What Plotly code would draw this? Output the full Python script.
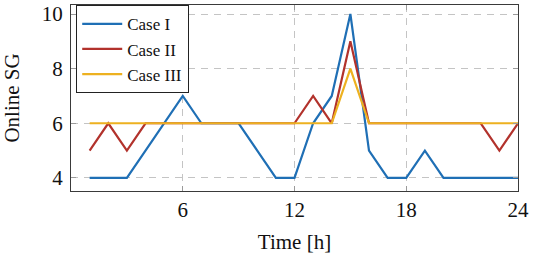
import plotly.graph_objects as go

hours = list(range(1, 25))
case_1 = [4, 4, 4, 5, 6, 7, 6, 6, 6, 5, 4, 4, 6, 7, 10, 5, 4, 4, 5, 4, 4, 4, 4, 4]
case_2 = [5, 6, 5, 6, 6, 6, 6, 6, 6, 6, 6, 6, 7, 6, 9, 6, 6, 6, 6, 6, 6, 6, 5, 6]
case_3 = [6, 6, 6, 6, 6, 6, 6, 6, 6, 6, 6, 6, 6, 6, 8, 6, 6, 6, 6, 6, 6, 6, 6, 6]
names = ["Case I", "Case II", "Case III"]
colors = ["#1f6fb5", "#b2322c", "#edb120"]
x_ticks = [6, 12, 18, 24]
y_ticks = [4, 6, 8, 10]

FONT = "'Liberation Serif', 'DejaVu Serif', serif"

fig = go.Figure()
for ys, name, c in zip([case_1, case_2, case_3], names, colors):
    fig.add_trace(go.Scatter(x=hours, y=ys, mode="lines", name=name,
                             line=dict(color=c, width=2.2)))

axis_common = dict(
    showline=True, linecolor="#3a3a3a", linewidth=1.3, mirror="ticks",
    showgrid=True, gridcolor="#c4c4c4", griddash="7px,6px", gridwidth=1,
    ticks="inside", ticklen=5, tickcolor="#9a9a9a", tickwidth=1,
    zeroline=False, tickfont=dict(family=FONT, size=21, color="#111"),
    automargin=False,
)

fig.update_xaxes(range=[0, 24], tickvals=x_ticks,
                 title=dict(text="Time [h]", font=dict(family=FONT, size=21, color="#111"), standoff=12),
                 **axis_common)
fig.update_yaxes(range=[3.52, 10.33], tickvals=y_ticks, ticklabelstandoff=3,
                 title=dict(text="Online SG", font=dict(family=FONT, size=21, color="#111"), standoff=16),
                 **axis_common)

fig.update_layout(
    width=538, height=261,
    margin=dict(l=71, r=20, t=5, b=70),
    plot_bgcolor="white", paper_bgcolor="white",
    showlegend=True,
    legend=dict(x=0.011, y=1.0, xanchor="left", yanchor="top",
                bgcolor="white", bordercolor="#222", borderwidth=1.3,
                font=dict(family=FONT, size=17, color="#111"),
                tracegroupgap=0, itemwidth=40),
)

fig.write_html("out.html", config={"displayModeBar": False},
               post_script="document.body.style.margin='0';")
